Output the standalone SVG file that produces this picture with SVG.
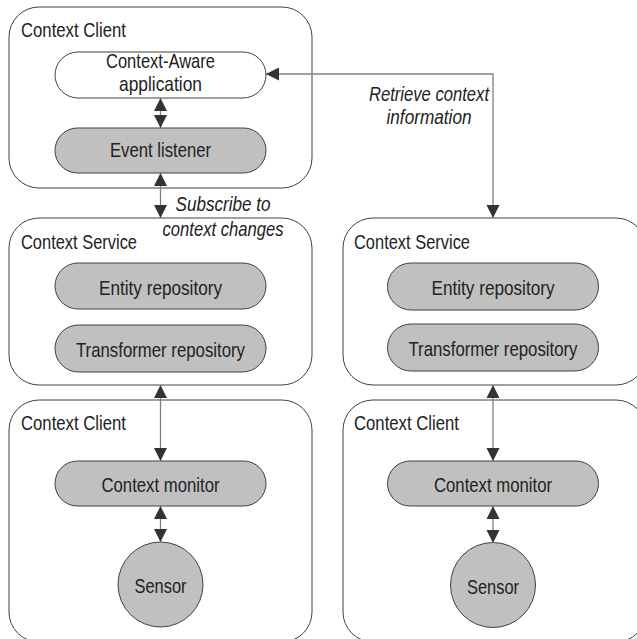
<svg xmlns="http://www.w3.org/2000/svg" width="637" height="639" viewBox="0 0 637 639">
<style>
.box{fill:#fff;stroke:#404040;stroke-width:1}
.pill{fill:#c0c0c0;stroke:#404040;stroke-width:1}
.pillw{fill:#fff;stroke:#404040;stroke-width:1}
.t{font-family:"Liberation Sans",Arial,sans-serif;font-size:21px;fill:#222}
.c{text-anchor:middle}
.i{font-style:italic;text-anchor:middle}
.ln{fill:none;stroke:#808080;stroke-width:1.3}
</style>
<defs>
<marker id="ah" markerUnits="userSpaceOnUse" markerWidth="14" markerHeight="14" refX="13" refY="7" orient="auto-start-reverse" viewBox="0 0 14 14">
<path d="M0,0.5 L13,7 L0,13.5 z" fill="#333"/>
</marker>
</defs>
<rect width="637" height="639" fill="#fff"/>
<g id="client-top">
<rect class="box" x="9" y="7" width="303" height="181" rx="30"/>
<text class="t" x="21" y="37" textLength="105" lengthAdjust="spacingAndGlyphs">Context Client</text>
</g>
<g id="app">
<rect class="pillw" x="55" y="52" width="211" height="46" rx="23"/>
<text class="t c" x="160.5" y="68" textLength="109" lengthAdjust="spacingAndGlyphs">Context-Aware</text>
<text class="t c" x="160.5" y="91" textLength="83" lengthAdjust="spacingAndGlyphs">application</text>
</g>
<g id="listener">
<rect class="pill" x="55" y="128" width="211" height="45" rx="22.5"/>
<text class="t c" x="160.5" y="157" textLength="101" lengthAdjust="spacingAndGlyphs">Event listener</text>
</g>
<g id="service-left">
<rect class="box" x="9" y="218" width="303" height="167" rx="30"/>
<text class="t" x="21" y="249" textLength="116" lengthAdjust="spacingAndGlyphs">Context Service</text>
</g>
<g id="entity-left">
<rect class="pill" x="55" y="263" width="211" height="46" rx="23"/>
<text class="t c" x="160.5" y="295" textLength="123" lengthAdjust="spacingAndGlyphs">Entity repository</text>
</g>
<g id="transformer-left">
<rect class="pill" x="55" y="325" width="211" height="47" rx="23.5"/>
<text class="t c" x="160.5" y="357" textLength="169" lengthAdjust="spacingAndGlyphs">Transformer repository</text>
</g>
<g id="client-bottom-left">
<rect class="box" x="9" y="400" width="303" height="242" rx="30"/>
<text class="t" x="21" y="430" textLength="105" lengthAdjust="spacingAndGlyphs">Context Client</text>
</g>
<g id="monitor-left">
<rect class="pill" x="55" y="461" width="211" height="45" rx="22.5"/>
<text class="t c" x="160.5" y="492" textLength="118" lengthAdjust="spacingAndGlyphs">Context monitor</text>
</g>
<g id="sensor-left">
<circle class="pill" cx="160.5" cy="584.5" r="42.5"/>
<text class="t c" x="160.5" y="593" textLength="52" lengthAdjust="spacingAndGlyphs">Sensor</text>
</g>
<g id="service-right">
<rect class="box" x="343" y="218" width="303" height="167" rx="30"/>
<text class="t" x="354" y="249" textLength="116" lengthAdjust="spacingAndGlyphs">Context Service</text>
</g>
<g id="entity-right">
<rect class="pill" x="387.5" y="263" width="211" height="47" rx="23.5"/>
<text class="t c" x="493" y="295" textLength="123" lengthAdjust="spacingAndGlyphs">Entity repository</text>
</g>
<g id="transformer-right">
<rect class="pill" x="387.5" y="324" width="211" height="47" rx="23.5"/>
<text class="t c" x="493" y="356" textLength="169" lengthAdjust="spacingAndGlyphs">Transformer repository</text>
</g>
<g id="client-bottom-right">
<rect class="box" x="343" y="400" width="303" height="242" rx="30"/>
<text class="t" x="354" y="430" textLength="105" lengthAdjust="spacingAndGlyphs">Context Client</text>
</g>
<g id="monitor-right">
<rect class="pill" x="387.5" y="461" width="211" height="45" rx="22.5"/>
<text class="t c" x="493" y="492" textLength="118" lengthAdjust="spacingAndGlyphs">Context monitor</text>
</g>
<g id="sensor-right">
<circle class="pill" cx="493" cy="585" r="42.5"/>
<text class="t c" x="493" y="594" textLength="52" lengthAdjust="spacingAndGlyphs">Sensor</text>
</g>
<g id="connectors">
<line class="ln" x1="160.5" y1="98" x2="160.5" y2="128" marker-start="url(#ah)" marker-end="url(#ah)"/>
<line class="ln" x1="160.5" y1="173" x2="160.5" y2="218" marker-start="url(#ah)" marker-end="url(#ah)"/>
<line class="ln" x1="160.5" y1="385" x2="160.5" y2="461" marker-start="url(#ah)" marker-end="url(#ah)"/>
<line class="ln" x1="160.5" y1="506" x2="160.5" y2="542" marker-start="url(#ah)" marker-end="url(#ah)"/>
<path class="ln" d="M266,74 H493 V218" marker-start="url(#ah)" marker-end="url(#ah)"/>
<line class="ln" x1="493" y1="385" x2="493" y2="461" marker-start="url(#ah)" marker-end="url(#ah)"/>
<line class="ln" x1="493" y1="506" x2="493" y2="543" marker-start="url(#ah)" marker-end="url(#ah)"/>
<text class="t i" x="223" y="211" textLength="95" lengthAdjust="spacingAndGlyphs">Subscribe to</text>
<text class="t i" x="223" y="236" textLength="121" lengthAdjust="spacingAndGlyphs">context changes</text>
<text class="t i" x="429" y="101" textLength="120" lengthAdjust="spacingAndGlyphs">Retrieve context</text>
<text class="t i" x="429" y="124" textLength="85" lengthAdjust="spacingAndGlyphs">information</text>
</g>
</svg>
